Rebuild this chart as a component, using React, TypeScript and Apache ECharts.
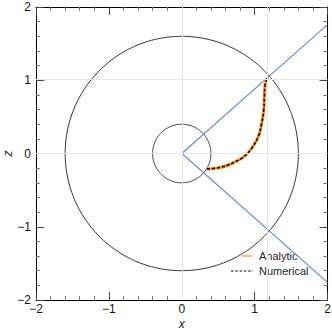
import { useEffect, useRef } from 'react';
import * as echarts from 'echarts';

const radii = [0.4, 1.6];
const rayPoints = [[2, 1.76], [0, 0], [2, -1.76]];
const curveX = [0.347, 0.457, 0.55, 0.64, 0.73, 0.823, 0.9, 0.96, 1.051, 1.097, 1.125, 1.134, 1.143, 1.18];
const curveZ = [-0.212, -0.202, -0.185, -0.157, -0.115, -0.066, 0.0, 0.071, 0.23, 0.41, 0.594, 0.776, 0.935, 1.04];
const guideX = [0, 1.18];
const guideZ = [0, 1.01];
const axisMin = -2;
const axisMax = 2;
const legendNames = ['Analytic', 'Numerical'];

const FONT = '"Liberation Sans", Arial, sans-serif';

function circlePoints(r: number) {
  const pts: number[][] = [];
  const n = 240;
  for (let i = 0; i <= n; i++) {
    const a = (2 * Math.PI * i) / n;
    pts.push([r * Math.cos(a), r * Math.sin(a)]);
  }
  return pts;
}

const fmt = (v: number) => String(v).replace('-', '\u2212');

export default function App() {
  const ref = useRef<HTMLDivElement>(null);
  useEffect(() => {
    document.body.style.margin = '0';
    const chart = echarts.init(ref.current!, null, { renderer: 'svg' });
    const curve = curveX.map((x, i) => [x, curveZ[i]]);
    const baseAxis = {
      type: 'value' as const,
      min: axisMin,
      max: axisMax,
      interval: 1,
      axisLine: { show: true, onZero: false, lineStyle: { color: '#000', width: 1 } },
      axisTick: { show: true, inside: true, length: 8, lineStyle: { color: '#444' } },
      minorTick: { show: true, splitNumber: 5, length: 4, lineStyle: { color: '#777' } },
      splitLine: { show: false },
      axisLabel: { fontSize: 12, color: '#111', fontFamily: FONT, formatter: fmt },
    };
    chart.setOption({
      animation: false,
      grid: { left: 36, right: 4.5, top: 7, bottom: 36, containLabel: false, outerBoundsMode: 'none' },
      xAxis: [
        { ...baseAxis, position: 'bottom', name: 'x', nameLocation: 'middle', nameGap: 18, nameMoveOverlap: false,
          nameTextStyle: { fontSize: 12, fontStyle: 'italic', color: '#111', fontFamily: FONT },
          axisLabel: { ...baseAxis.axisLabel, margin: 3 } },
        { ...baseAxis, position: 'top', axisLabel: { show: false } },
      ],
      yAxis: [
        { ...baseAxis, position: 'left', name: 'z', nameLocation: 'middle', nameGap: 28, nameRotate: 90, nameMoveOverlap: false,
          nameTextStyle: { fontSize: 12, fontStyle: 'italic', color: '#111', fontFamily: FONT, verticalAlign: 'middle' },
          axisLabel: { ...baseAxis.axisLabel, margin: 5 } },
        { ...baseAxis, position: 'right', axisLabel: { show: false } },
      ],
      series: [
        {
          type: 'line', data: [], silent: true,
          markLine: {
            silent: true, symbol: 'none', label: { show: false },
            lineStyle: { color: '#e6e6e6', width: 1, type: 'solid' },
            data: [...guideX.map((v) => ({ xAxis: v })), ...guideZ.map((v) => ({ yAxis: v }))],
          },
        },
        ...radii.map((r) => ({
          type: 'line', data: circlePoints(r), showSymbol: false, symbol: 'none',
          lineStyle: { color: '#333', width: 1 }, silent: true,
        })),
        {
          type: 'line', data: rayPoints, symbol: 'none', lineStyle: { color: '#6189c6', width: 1.1 }, silent: true,
        },
        {
          name: legendNames[0], type: 'line', data: curve, symbol: 'none', smooth: 0.4,
          lineStyle: { color: '#ff8c1a', width: 3 }, silent: true,
        },
        {
          name: legendNames[1], type: 'line', data: curve, symbol: 'none', smooth: 0.4,
          lineStyle: { color: '#000', width: 1.5, type: [3, 2] }, silent: true,
        },
      ],
      graphic: [
        { type: 'line', shape: { x1: 242, y1: 256, x2: 252, y2: 256 }, style: { stroke: '#ff8c1a', lineWidth: 1.2 } },
        { type: 'text', x: 259, y: 256, style: { text: legendNames[0], font: `11px ${FONT}`, fill: '#222', verticalAlign: 'middle' } },
        { type: 'line', shape: { x1: 231, y1: 271, x2: 253, y2: 271 }, style: { stroke: '#000', lineWidth: 1.2, lineDash: [2.5, 1.8] } },
        { type: 'text', x: 259, y: 271, style: { text: legendNames[1], font: `11px ${FONT}`, fill: '#222', verticalAlign: 'middle' } },
      ],
    });
    return () => chart.dispose();
  }, []);
  return <div ref={ref} style={{ width: 332, height: 336 }} />;
}
